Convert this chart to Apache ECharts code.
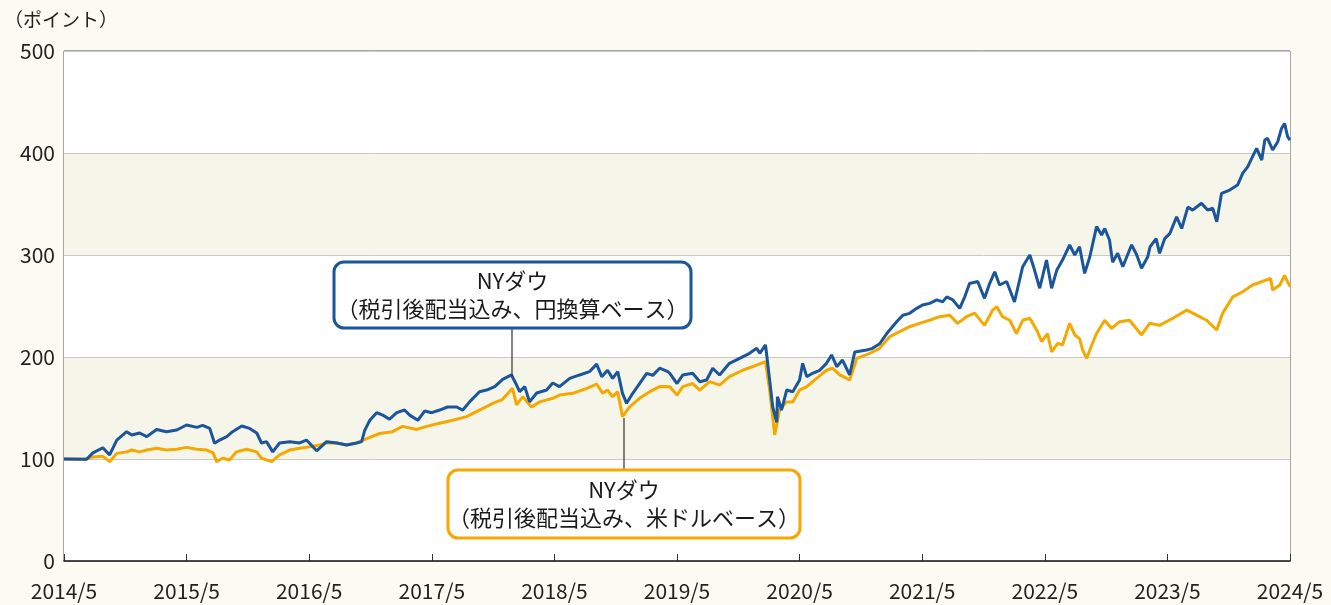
<!DOCTYPE html>
<html>
<head>
<meta charset="utf-8">
<script src="https://cdn.jsdelivr.net/npm/echarts@6/dist/echarts.min.js"></script>
<style>
  html, body { margin: 0; padding: 0; background: #fbfbf4; }
  #chart { width: 1331px; height: 605px; }
</style>
</head>
<body>
<div id="chart"></div>
<script>
// x軸ラベル（毎年5月）
const xLabels = ['2014/5', '2015/5', '2016/5', '2017/5', '2018/5', '2019/5', '2020/5', '2021/5', '2022/5', '2023/5', '2024/5'];
const yTicks = [0, 100, 200, 300, 400, 500];

// NYダウ（税引後配当込み、円換算ベース）
const yenDates = [
  '2014-05-01', '2014-07-07', '2014-07-26', '2014-08-25', '2014-09-15', '2014-10-06', '2014-11-05', '2014-11-20',
  '2014-12-13', '2015-01-04', '2015-02-03', '2015-03-02', '2015-04-02', '2015-05-01', '2015-06-01', '2015-06-18',
  '2015-07-09', '2015-07-23', '2015-08-08', '2015-08-29', '2015-09-16', '2015-10-13', '2015-11-06', '2015-11-27',
  '2015-12-11', '2015-12-26', '2016-01-14', '2016-02-04', '2016-03-04', '2016-04-03', '2016-04-23', '2016-05-23',
  '2016-06-22', '2016-07-22', '2016-08-21', '2016-09-20', '2016-10-05', '2016-10-14', '2016-10-29', '2016-11-19',
  '2016-12-07', '2016-12-27', '2017-01-18', '2017-02-11', '2017-02-26', '2017-03-20', '2017-04-10', '2017-05-01',
  '2017-05-24', '2017-06-17', '2017-07-14', '2017-08-02', '2017-08-22', '2017-09-21', '2017-10-12', '2017-11-06',
  '2017-11-29', '2017-12-25', '2018-01-10', '2018-01-19', '2018-02-04', '2018-02-18', '2018-03-09', '2018-04-08',
  '2018-04-26', '2018-05-16', '2018-06-16', '2018-07-15', '2018-08-14', '2018-09-05', '2018-09-20', '2018-10-07',
  '2018-10-22', '2018-11-07', '2018-11-21', '2018-12-03', '2018-12-21', '2019-01-11', '2019-02-02', '2019-02-20',
  '2019-03-10', '2019-04-04', '2019-04-10', '2019-05-01', '2019-05-18', '2019-06-17', '2019-07-08', '2019-07-28',
  '2019-08-16', '2019-09-06', '2019-10-05', '2019-11-05', '2019-12-04', '2019-12-25', '2020-01-04', '2020-01-21',
  '2020-02-03', '2020-02-12', '2020-02-24', '2020-02-26', '2020-03-08', '2020-03-23', '2020-04-11', '2020-05-01',
  '2020-05-10', '2020-05-22', '2020-06-09', '2020-06-30', '2020-07-20', '2020-08-05', '2020-08-20', '2020-09-07',
  '2020-09-28', '2020-10-13', '2020-11-18', '2020-12-05', '2020-12-26', '2021-01-17', '2021-02-16', '2021-03-04',
  '2021-03-24', '2021-04-15', '2021-05-02', '2021-05-23', '2021-06-14', '2021-07-01', '2021-07-13', '2021-08-01',
  '2021-08-21', '2021-09-06', '2021-09-20', '2021-10-14', '2021-11-04', '2021-11-19', '2021-12-04', '2021-12-18',
  '2022-01-09', '2022-02-02', '2022-02-26', '2022-03-17', '2022-04-01', '2022-04-16', '2022-05-06', '2022-05-21',
  '2022-06-06', '2022-06-23', '2022-07-14', '2022-07-29', '2022-08-13', '2022-08-28', '2022-09-13', '2022-10-03',
  '2022-10-18', '2022-10-27', '2022-11-11', '2022-11-20', '2022-12-05', '2022-12-20', '2023-01-16', '2023-02-01',
  '2023-02-15', '2023-03-03', '2023-03-10', '2023-03-28', '2023-04-08', '2023-04-23', '2023-05-08', '2023-05-28',
  '2023-06-13', '2023-07-01', '2023-07-15', '2023-08-11', '2023-08-29', '2023-09-14', '2023-09-26', '2023-10-10',
  '2023-11-04', '2023-11-27', '2023-12-12', '2023-12-27', '2024-01-11', '2024-01-23', '2024-02-08', '2024-02-17',
  '2024-02-25', '2024-03-10', '2024-03-25', '2024-04-06', '2024-04-15', '2024-04-24', '2024-05-01'
];
const yenValues = [
  100, 99.7, 106, 111, 104, 118.6, 126.8, 123.5,
  125.5, 121.9, 129, 126.8, 128.4, 133.3, 131, 133,
  130, 115.5, 118.6, 122, 126.8, 132.3, 130, 125.5,
  115.7, 117, 107, 115.7, 117, 115.7, 118.6, 108,
  117, 115.7, 113.7, 115.7, 117, 128, 138, 145.4,
  143, 139, 145.4, 148, 143, 138, 147, 145.4,
  148, 151, 151, 148, 156, 166, 167.6, 171,
  178, 182.4, 172.5, 166, 171, 156, 164.7, 167.6,
  174.5, 171, 179, 182.4, 185.6, 193, 180.7, 187,
  179, 185.6, 164.4, 154.6, 164.4, 174, 184, 182,
  189, 185.6, 184, 174, 182.4, 184, 175.8, 177.5,
  189, 182.4, 193.8, 198.7, 203.6, 208.5, 203.6, 211.8,
  177.5, 151, 136, 161, 148, 167.6, 166, 177.5,
  193.8, 180.7, 184, 187, 193.8, 202, 190.5, 197,
  182.4, 205, 206.9, 208.5, 213, 223, 234.6, 241,
  242.8, 247.7, 251, 252.6, 256, 254, 259, 256,
  247.7, 259, 272, 274, 257.5, 272, 283.6, 270.6,
  274, 254, 288.5, 300, 285, 267.4, 295, 267.4,
  285, 295, 309.8, 300, 308, 282, 298, 327.8,
  319.6, 326, 314.7, 293, 301.6, 288.5, 310, 300,
  287, 298, 308, 316, 301.6, 316, 321, 337.5,
  326, 347, 344, 350.7, 344, 345.8, 332.6, 360.5,
  363.7, 368.6, 380, 386.6, 396.4, 404.6, 393, 412.7,
  414.4, 403, 411, 424, 429, 416, 412.7
];

// NYダウ（税引後配当込み、米ドルベース）
const usdDates = [
  '2014-05-01', '2014-07-07', '2014-07-26', '2014-08-25', '2014-09-15', '2014-10-06', '2014-11-05', '2014-11-20',
  '2014-12-13', '2015-01-04', '2015-02-03', '2015-03-02', '2015-04-02', '2015-05-01', '2015-06-01', '2015-06-30',
  '2015-07-19', '2015-07-29', '2015-08-17', '2015-09-07', '2015-09-27', '2015-10-27', '2015-11-27', '2015-12-11',
  '2015-12-26', '2016-01-11', '2016-02-04', '2016-03-04', '2016-04-03', '2016-05-03', '2016-06-02', '2016-06-22',
  '2016-07-22', '2016-08-21', '2016-09-20', '2016-10-20', '2016-11-28', '2017-01-06', '2017-02-05', '2017-03-17',
  '2017-04-16', '2017-05-24', '2017-07-02', '2017-08-13', '2017-09-21', '2017-10-30', '2017-11-29', '2017-12-28',
  '2018-01-10', '2018-01-28', '2018-02-24', '2018-03-18', '2018-04-26', '2018-05-16', '2018-06-25', '2018-08-06',
  '2018-09-05', '2018-09-23', '2018-10-07', '2018-10-22', '2018-11-07', '2018-11-21', '2018-12-12', '2019-01-11',
  '2019-02-11', '2019-03-10', '2019-04-10', '2019-05-01', '2019-05-18', '2019-06-17', '2019-07-08', '2019-08-07',
  '2019-09-06', '2019-10-05', '2019-11-14', '2019-12-25', '2020-01-21', '2020-02-03', '2020-02-18', '2020-03-02',
  '2020-03-23', '2020-04-11', '2020-05-01', '2020-05-22', '2020-06-21', '2020-07-20', '2020-08-08', '2020-08-29',
  '2020-09-28', '2020-10-19', '2020-11-27', '2020-12-26', '2021-01-26', '2021-02-25', '2021-03-24', '2021-04-23',
  '2021-05-23', '2021-06-22', '2021-07-22', '2021-08-15', '2021-09-11', '2021-10-05', '2021-11-04', '2021-11-28',
  '2021-12-10', '2021-12-27', '2022-01-18', '2022-02-08', '2022-02-26', '2022-03-17', '2022-04-07', '2022-04-22',
  '2022-05-09', '2022-05-21', '2022-06-09', '2022-06-23', '2022-07-14', '2022-07-29', '2022-08-13', '2022-08-22',
  '2022-09-04', '2022-09-19', '2022-10-03', '2022-10-27', '2022-11-17', '2022-12-11', '2023-01-10', '2023-02-15',
  '2023-03-09', '2023-04-08', '2023-05-17', '2023-06-28', '2023-07-27', '2023-08-26', '2023-09-26', '2023-10-13',
  '2023-11-13', '2023-12-12', '2024-01-11', '2024-03-04', '2024-03-10', '2024-04-01', '2024-04-15', '2024-05-01'
];
const usdValues = [
  100, 99.7, 102, 102.6, 97.4, 105.5, 107, 108.8,
  107, 108.8, 110.5, 108.8, 109.5, 111.4, 109.5, 108.8,
  106, 97.4, 100.7, 99, 107, 109.5, 107, 100.7,
  99, 97.4, 104, 108.8, 110.5, 112, 113.7, 115.7,
  115.7, 113.7, 115.7, 120, 125, 126.8, 132, 129,
  132, 135, 138, 141.5, 148, 154.6, 158.5, 169.3,
  153, 161, 151, 156, 159.5, 162.7, 164.4, 169.3,
  173.5, 164.4, 167.6, 161, 166, 141.5, 151, 159.5,
  166, 171, 170.9, 162.7, 171, 174, 167.6, 175.8,
  172.5, 180.7, 187, 192, 195.4, 167.6, 123.5, 148,
  156, 156, 167.6, 171, 179, 187, 189, 182.4,
  177.5, 198.7, 203.6, 208.5, 220, 224.8, 229.7, 233,
  236, 239.5, 241, 233, 239.5, 243, 231, 246,
  249.3, 239.5, 236, 223, 236, 238, 226.5, 215,
  223, 205, 213.4, 211.8, 233, 221.6, 218, 207,
  198.7, 211.8, 223, 236, 228, 234.6, 236, 221.6,
  233, 231, 238, 246, 241, 236, 226.5, 242.8,
  259, 264, 270.6, 277, 265.7, 270.6, 280, 269
];

// 日付 → 2014/5起点の月数
function toMonths(s) {
  const [y, m, d] = s.split('-').map(Number);
  return (y - 2014) * 12 + (m - 5) + (d - 1) / 30;
}
function pairs(dates, values) {
  return dates.map((d, i) => [toMonths(d), values[i]]);
}

const FONT = '"Noto Sans CJK JP", "Noto Sans", sans-serif';
const BLUE = '#1b559c';
const YELLOW = '#f5a800';

const chart = echarts.init(document.getElementById('chart'));

// 注記ボックス（枠＋2行テキスト）
function labelBox(x, y, w, h, color, lines) {
  return [
    {
      type: 'rect',
      z: 100,
      shape: { x: x, y: y, width: w, height: h, r: 10 },
      style: { fill: '#ffffff', stroke: color, lineWidth: 3 }
    },
    {
      type: 'text',
      z: 101,
      x: x + w / 2,
      y: y + h / 2,
      style: {
        text: lines.join('\n'),
        fill: '#1a1a1a',
        fontSize: 22,
        fontFamily: FONT,
        lineHeight: 28,
        align: 'center',
        verticalAlign: 'middle'
      }
    }
  ];
}

chart.setOption({
  animation: false,
  backgroundColor: '#fbfbf4',
  grid: {
    left: 64,
    right: 41,
    top: 51,
    bottom: 44,
    show: true,
    backgroundColor: '#ffffff',
    borderColor: '#555555',
    borderWidth: 1
  },
  xAxis: {
    type: 'value',
    min: 0,
    max: 120,
    interval: 12,
    axisLine: { show: true, lineStyle: { color: '#111', width: 1.5 } },
    axisTick: { show: true, inside: true, length: 7, lineStyle: { color: '#333' } },
    splitLine: { show: false },
    axisLabel: {
      margin: 20,
      fontSize: 21,
      fontFamily: FONT,
      color: '#222',
      formatter: (v) => xLabels[v / 12]
    }
  },
  yAxis: {
    type: 'value',
    min: yTicks[0],
    max: yTicks[yTicks.length - 1],
    interval: 100,
    axisLine: { show: false },
    axisTick: { show: false },
    axisLabel: { margin: 9, fontSize: 21, fontFamily: FONT, color: '#222' },
    splitLine: { show: true, lineStyle: { color: '#c9c9c9', width: 1 } },
    splitArea: { show: true, areaStyle: { color: ['#ffffff', '#f5f5ea'] } }
  },
  graphic: [
    {
      type: 'text',
      x: 4,
      y: 10,
      style: { text: '（ポイント）', fill: '#222', fontSize: 19, fontFamily: FONT }
    },
    {
      type: 'line',
      z: 90,
      shape: { x1: 512, y1: 328, x2: 512, y2: 376 },
      style: { stroke: '#333', lineWidth: 1.2 }
    },
    {
      type: 'line',
      z: 90,
      shape: { x1: 624, y1: 418, x2: 624, y2: 470 },
      style: { stroke: '#333', lineWidth: 1.2 }
    },
    ...labelBox(334, 262, 357, 66, BLUE, ['NYダウ', '（税引後配当込み、円換算ベース）']),
    ...labelBox(448, 470, 352, 68, YELLOW, ['NYダウ', '（税引後配当込み、米ドルベース）'])
  ],
  series: [
    {
      name: 'NYダウ（税引後配当込み、米ドルベース）',
      type: 'line',
      data: pairs(usdDates, usdValues),
      showSymbol: false,
      lineStyle: { color: YELLOW, width: 3 },
      z: 3
    },
    {
      name: 'NYダウ（税引後配当込み、円換算ベース）',
      type: 'line',
      data: pairs(yenDates, yenValues),
      showSymbol: false,
      lineStyle: { color: BLUE, width: 3 },
      z: 4
    }
  ]
});
</script>
</body>
</html>
